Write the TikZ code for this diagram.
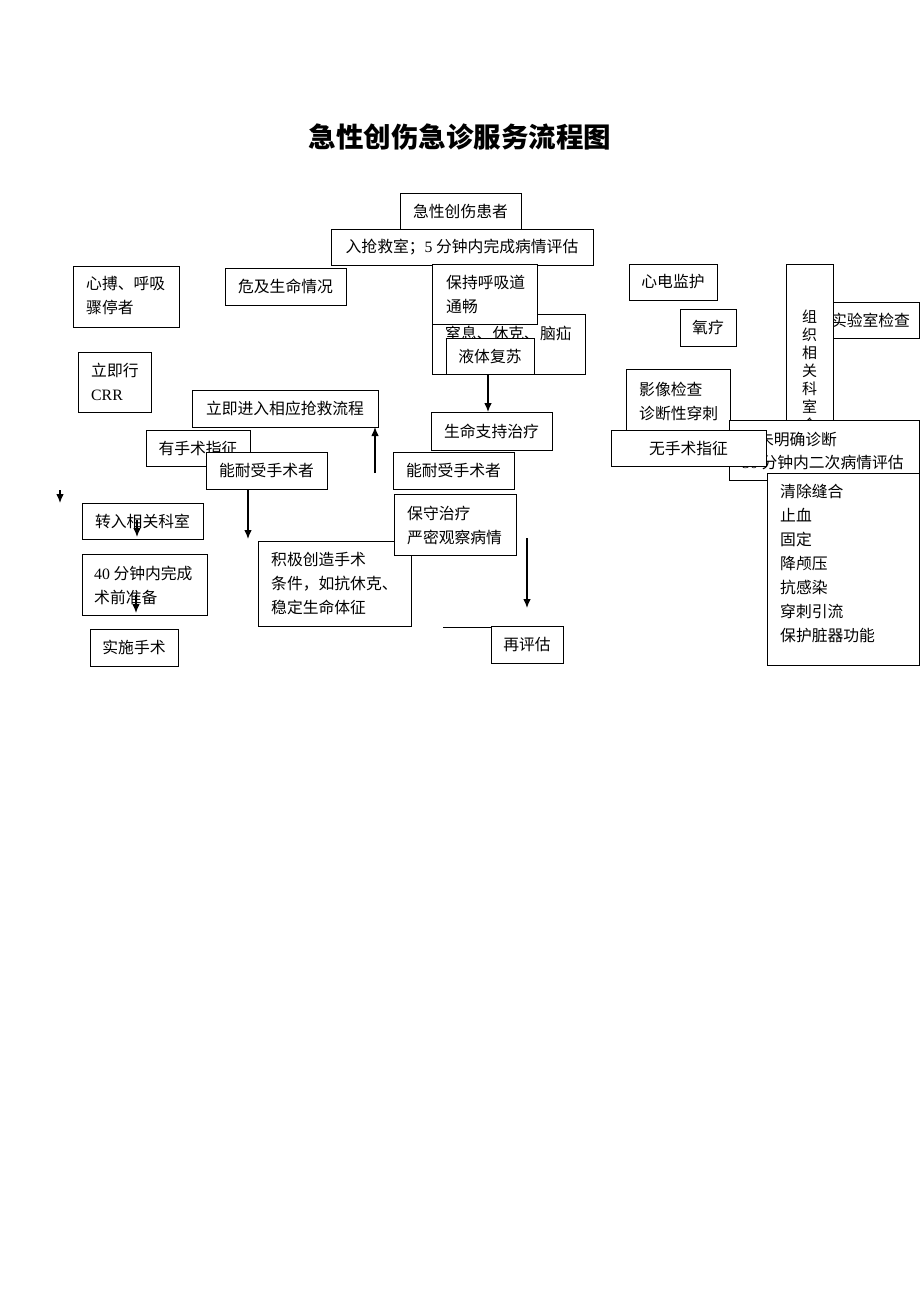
\documentclass[tikz,border=0pt]{standalone}
\usepackage{fontspec}
\setmainfont{Noto Sans CJK SC}
\newfontfamily\lat{Liberation Serif}
\usetikzlibrary{arrows.meta}
\newcommand\fs{\fontsize{15.8}{24}\selectfont}
\tikzset{
  box/.style={draw, fill=white, line width=1pt, inner sep=0pt, outer sep=0pt, anchor=north west, font=\fs},
  txt/.style={inner sep=0pt, anchor=west, align=left, font=\fs},
  arr/.style={line width=1.1pt, -{Latex[length=9pt,width=7.5pt]}},
  ln/.style={line width=1pt},
}
\newcommand\bx[6]{\pgfmathsetmacro\bw{#4-#2}\pgfmathsetmacro\bh{#5-#3}%
  \node[box, minimum width=\bw pt, minimum height=\bh pt] (#1) at (#2,#3) {#6};}
\begin{document}
\begin{tikzpicture}[x=1pt,y=-1pt]
\useasboundingbox[fill=white] (0,0) rectangle (920,1302);
% title
\node[inner sep=0pt, font=\fontsize{27.5}{30}\selectfont\bfseries] (title) at (460,137) {急性创伤急诊服务流程图};
% top
\bx{ja}{400}{193}{521}{229}{急性创伤患者}
\bx{rq}{331}{229}{593}{265}{入抢救室；{\lat 5} 分钟内完成病情评估}
\bx{xb}{73}{266}{179}{327}{}
\node[txt] (xb-t) at (86,295.5) {心搏、呼吸\\骤停者};
\bx{wj}{225}{268}{346}{305}{危及生命情况}
\bx{zx}{432}{314}{585}{374}{}
\node[txt] (zx-t) at (445,333) {窒息、休克、脑疝};
\bx{bc}{432}{264}{537}{324}{}
\node[txt] (bc-t) at (446,294) {保持呼吸道\\通畅};
\bx{yt}{446}{338}{534}{374}{液体复苏}
\bx{xd}{629}{264}{717}{300}{心电监护}
\bx{yl}{680}{309}{736}{346}{氧疗}
\bx{sy}{822}{302}{919}{338}{实验室检查}
\bx{zz}{786}{264}{833}{470}{}
\node[inner sep=0pt, anchor=north, align=center, font=\fontsize{15}{18}\selectfont] (zz-t) at (809.5,310) {组\\织\\相\\关\\科\\室\\会};
\bx{yx}{626}{369}{730}{440}{}
\node[txt] (yx-t) at (639,401) {影像检查\\诊断性穿刺};
\bx{sw}{729}{420}{919}{480}{}
\node[txt, font=\fontsize{15.8}{23}\selectfont] (sw-t) at (742,450.5) {尚未明确诊断\\{\lat 30} 分钟内二次病情评估};
\bx{wss}{611}{430}{766}{466}{无手术指征}
\bx{lb}{767}{473}{919}{665}{}
\node[txt] (lb-t) at (780,563) {清除缝合\\止血\\固定\\降颅压\\抗感染\\穿刺引流\\保护脏器功能};
% left
\bx{lj}{78}{352}{151}{412}{}
\node[txt] (lj-t) at (91,382) {立即行\\{\lat CRR}};
\bx{lr}{192}{390}{378}{427}{立即进入相应抢救流程}
\bx{sm}{431}{412}{552}{450}{生命支持治疗}
\bx{ys}{146}{430}{250}{466}{有手术指征}
\bx{nn1}{206}{452}{327}{489}{能耐受手术者}
\bx{nn2}{393}{452}{514}{489}{能耐受手术者}
\bx{jj}{258}{541}{411}{626}{}
\node[txt] (jj-t) at (271,584) {积极创造手术\\条件，如抗休克、\\稳定生命体征};
\bx{bs}{394}{494}{516}{555}{}
\node[txt] (bs-t) at (407,525) {保守治疗\\严密观察病情};
\bx{zr}{82}{503}{203}{539}{转入相关科室}
\bx{sq}{82}{554}{207}{615}{}
\node[txt] (sq-t) at (94,585) {{\lat 40} 分钟内完成\\术前准备};
\bx{ss}{90}{629}{178}{666}{实施手术}
\bx{zpg}{491}{626}{563}{663}{再评估}
% connectors
\coordinate (c1) at (488,0);
\draw[arr] (yt.south -| c1) -- (sm.north -| c1);
\coordinate (u1) at (375,473);
\draw[arr] (u1) -- (u1 |- lr.south);
\coordinate (a2) at (248,539);
\draw[arr] (nn1.south -| a2) -- (a2);
\coordinate (s1) at (60,490); \coordinate (s2) at (60,503);
\draw[arr] (s1) -- (s2);
\coordinate (s3) at (137,520); \coordinate (s4) at (137,537);
\draw[arr] (s3) -- (s4);
\coordinate (s5) at (136,595); \coordinate (s6) at (136,613);
\draw[arr] (s5) -- (s6);
\coordinate (r1) at (527,538); \coordinate (r2) at (527,608);
\draw[arr] (r1) -- (r2);
\coordinate (l1) at (443,627);
\draw[ln] (l1) -- (l1 -| zpg.west);
\end{tikzpicture}
\end{document}
